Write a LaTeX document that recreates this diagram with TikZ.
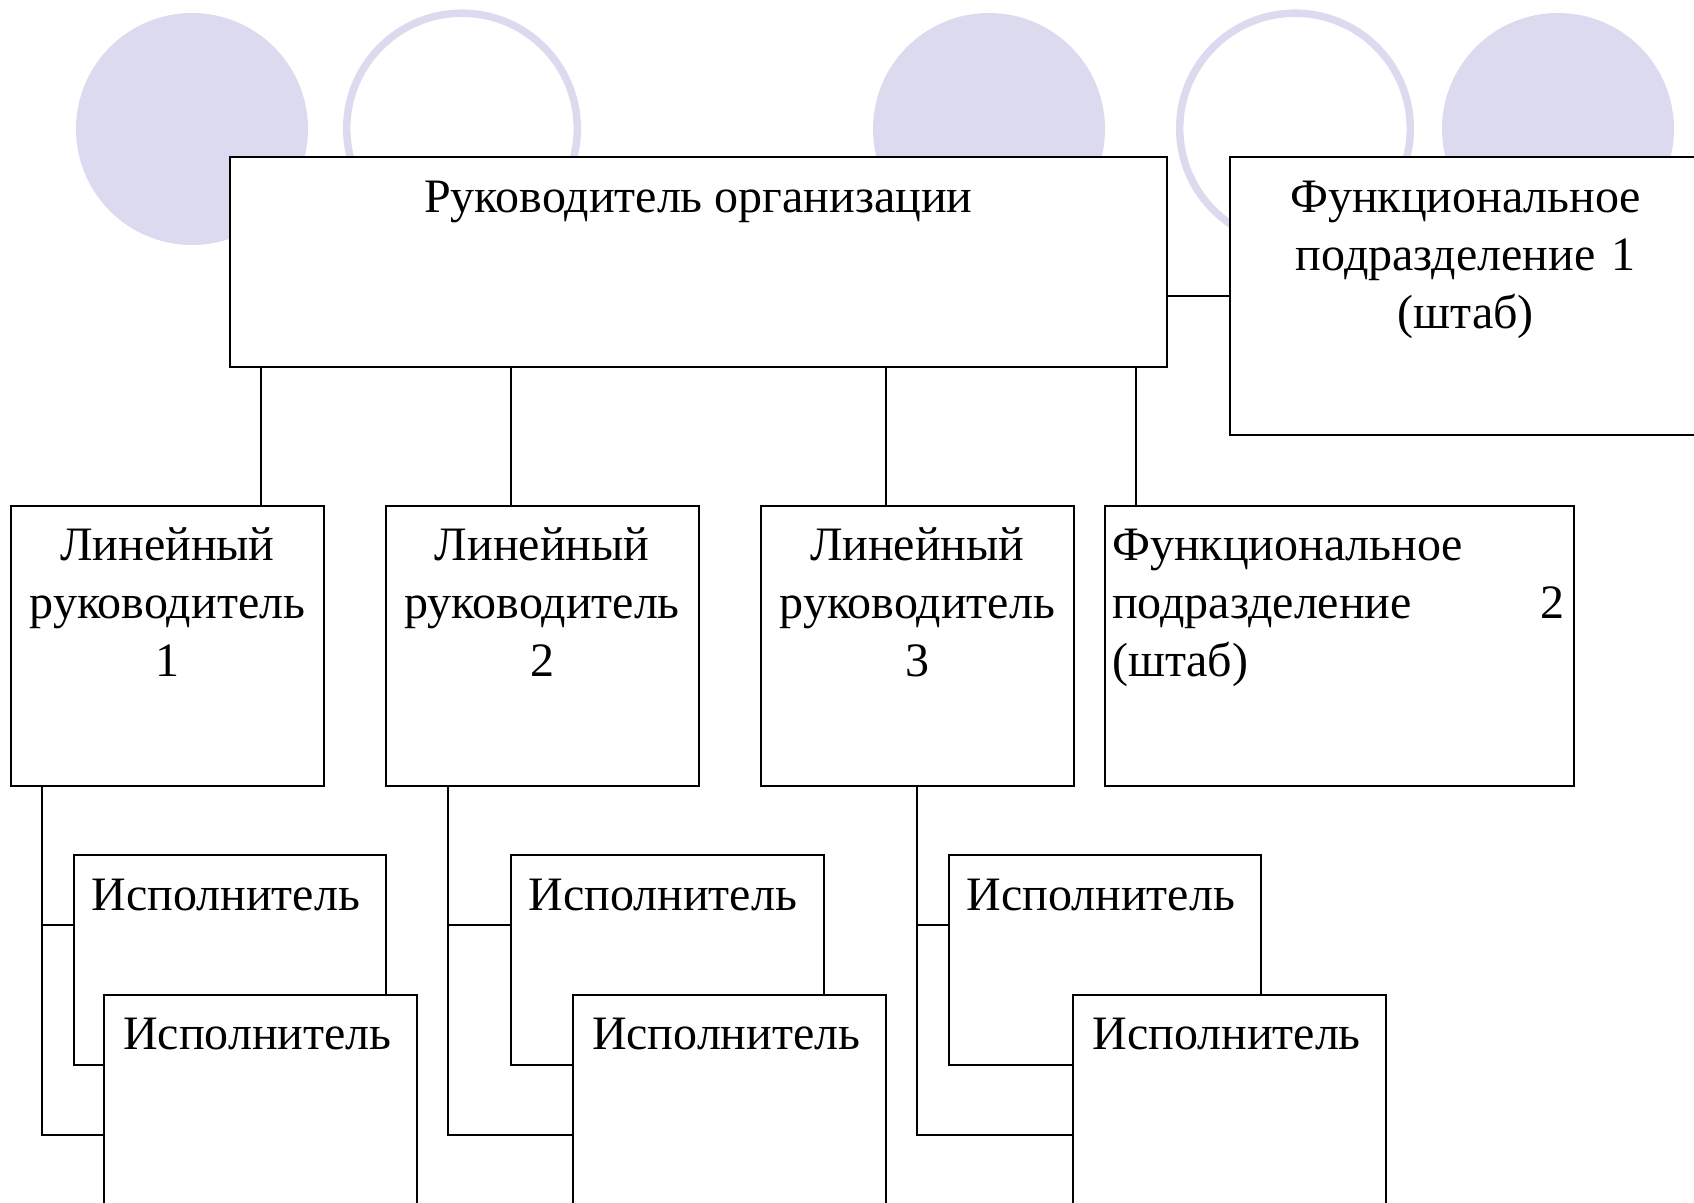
\documentclass[tikz,border=0pt]{standalone}
\usepackage{fontspec}
\setmainfont{Liberation Serif}
\usetikzlibrary{fit}
\definecolor{bgcirc}{RGB}{220,218,238}
\begin{document}
\begin{tikzpicture}[x=0.5pt,y=-0.5pt,
  box/.style={draw=black, line width=1pt, fill=white, inner sep=0pt},
  lbl/.style={inner sep=0pt, font=\fontsize{24pt}{28.9pt}\selectfont},
  conn/.style={draw=black, line width=1pt},
  disc/.style={fill=bgcirc},
  ring/.style={draw=bgcirc, line width=3.75pt}]
\useasboundingbox (0,0) rectangle (1694,1203);
\clip (0,0) rectangle (1694,1203);
% background circles
\fill[disc] (192,129) circle[radius=116];
\draw[ring] (462,128.5) circle[radius=115.3];
\fill[disc] (989,129) circle[radius=116];
\draw[ring] (1295,128.5) circle[radius=115.3];
\fill[disc] (1558,129) circle[radius=116];
% top level
\node[box, fit={(229.6,156.7) (1167,366.7)}] (top) {};
\node[box, fit={(1229.5,156.7) (1702,435)}] (f1) {};
\node[lbl, anchor=base] (ttop) at (698.3,212.5) {Руководитель организации};
\node[lbl, anchor=base, text width=240pt, align=center] (tf1) at (1465.7,213) {Функциональное\\подразделение 1\\(штаб)};
% second level
\node[box, fit={(10.8,506) (324,785.7)}] (lr1) {};
\node[box, fit={(385.7,506) (698.5,785.7)}] (lr2) {};
\node[box, fit={(760.7,506) (1074,785.7)}] (lr3) {};
\node[box, fit={(1104.7,506) (1574,785.7)}] (f2) {};
\node[lbl, anchor=base, text width=150pt, align=center] (tlr1) at (lr1.north |- 0,561) {Линейный\\руководитель\\1};
\node[lbl, anchor=base, text width=150pt, align=center] (tlr2) at (lr2.north |- 0,561) {Линейный\\руководитель\\2};
\node[lbl, anchor=base, text width=150pt, align=center] (tlr3) at (lr3.north |- 0,561) {Линейный\\руководитель\\3};
\node[lbl, anchor=base west, text width=226.35pt, align=left] (tf2) at (1111.7,561) {Функциональное\\подразделение\hskip 0pt plus 1filll 2\\(штаб)};
% connectors from top
\coordinate (k1) at (261,0);
\coordinate (k2) at (510.5,0);
\coordinate (k3) at (886,0);
\coordinate (k4) at (1136,0);
\draw[conn] (k1 |- top.south) -- (k1 |- lr1.north);
\draw[conn] (k2 |- top.south) -- (k2 |- lr2.north);
\draw[conn] (k3 |- top.south) -- (k3 |- lr3.north);
\draw[conn] (k4 |- top.south) -- (k4 |- f2.north);
\draw[conn] (f1.west) -- (f1.west -| top.east);
% executors
\node[box, fit={(73.5,855.3) (385.7,1065)}] (e1a) {};
\node[box, fit={(104.3,995) (417,1215)}] (e1b) {};
\node[box, fit={(510.5,855.3) (824,1065)}] (e2a) {};
\node[box, fit={(573,995) (886,1215)}] (e2b) {};
\node[box, fit={(948.6,855.3) (1261.4,1065)}] (e3a) {};
\node[box, fit={(1073.4,995) (1386,1215)}] (e3b) {};
\node[lbl, anchor=base west] (te1a) at ([xshift=9.3pt,yshift=-28pt]e1a.north west) {Исполнитель};
\node[lbl, anchor=base west] (te1b) at ([xshift=9.8pt,yshift=-27.5pt]e1b.north west) {Исполнитель};
\node[lbl, anchor=base west] (te2a) at ([xshift=9.3pt,yshift=-28pt]e2a.north west) {Исполнитель};
\node[lbl, anchor=base west] (te2b) at ([xshift=9.8pt,yshift=-27.5pt]e2b.north west) {Исполнитель};
\node[lbl, anchor=base west] (te3a) at ([xshift=9.3pt,yshift=-28pt]e3a.north west) {Исполнитель};
\node[lbl, anchor=base west] (te3b) at ([xshift=9.8pt,yshift=-27.5pt]e3b.north west) {Исполнитель};
% connectors to executors
\coordinate (v1) at (42,0);
\coordinate (v2) at (448.4,0);
\coordinate (v3) at (917,0);
\coordinate (ya) at (0,925.3);
\coordinate (yb) at (0,1135);
\draw[conn] (v1 |- lr1.south) -- (v1 |- yb) -- (e1b.west |- yb);
\draw[conn] (v1 |- ya) -- (e1a.west |- ya);
\draw[conn] (v2 |- lr2.south) -- (v2 |- yb) -- (e2b.west |- yb);
\draw[conn] (v2 |- ya) -- (e2a.west |- ya);
\draw[conn] (v3 |- lr3.south) -- (v3 |- yb) -- (e3b.west |- yb);
\draw[conn] (v3 |- ya) -- (e3a.west |- ya);
\end{tikzpicture}
\end{document}
